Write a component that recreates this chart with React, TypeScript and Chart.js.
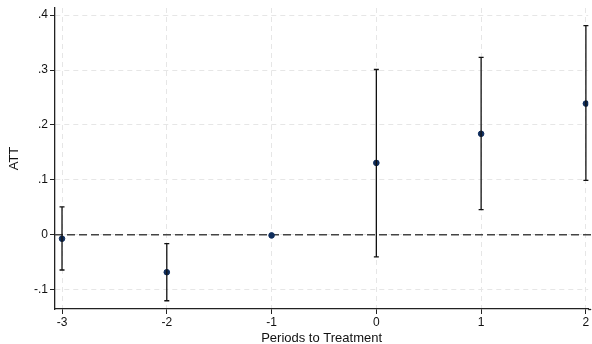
import React, { useEffect, useRef } from "react";
import { Chart, registerables } from "chart.js";

Chart.register(...registerables);

const periods = [-3, -2, -1, 0, 1, 2];
const att = [-0.007, -0.068, -0.001, 0.131, 0.184, 0.239];
const ciLower = [-0.064, -0.12, -0.001, -0.04, 0.046, 0.099];
const ciUpper = [0.051, -0.016, -0.001, 0.301, 0.323, 0.381];
const yTicks = [-0.1, 0, 0.1, 0.2, 0.3, 0.4];
const xTicks = [-3, -2, -1, 0, 1, 2];

const fmtY = (v: number) => {
  if (Math.abs(v) < 1e-9) return "0";
  const s = (Math.round(v * 10) / 10).toString();
  return s.replace("0.", ".");
};

const errorBars = {
  id: "errorBars",
  afterDatasetsDraw(chart: any) {
    const { ctx, scales } = chart;
    const xs = scales.x;
    const ys = scales.y;
    ctx.save();
    ctx.strokeStyle = "#111111";
    ctx.lineWidth = 1.3;
    for (let i = 0; i < periods.length; i++) {
      if (ciUpper[i] - ciLower[i] < 0.002) continue;
      const px = xs.getPixelForValue(periods[i]);
      const pl = ys.getPixelForValue(ciLower[i]);
      const pu = ys.getPixelForValue(ciUpper[i]);
      ctx.beginPath();
      ctx.moveTo(px, pl);
      ctx.lineTo(px, pu);
      ctx.moveTo(px - 2.5, pl);
      ctx.lineTo(px + 2.5, pl);
      ctx.moveTo(px - 2.5, pu);
      ctx.lineTo(px + 2.5, pu);
      ctx.stroke();
    }
    ctx.restore();
  },
  beforeDatasetsDraw(chart: any) {
    const { ctx, scales, chartArea } = chart;
    const py = scales.y.getPixelForValue(0);
    ctx.save();
    ctx.strokeStyle = "#444444";
    ctx.lineWidth = 1.5;
    ctx.setLineDash([8, 4]);
    ctx.beginPath();
    ctx.moveTo(chartArea.left, py);
    ctx.lineTo(chartArea.right + 3, py);
    ctx.stroke();
    ctx.setLineDash([]);
    ctx.strokeStyle = "#222";
    ctx.lineWidth = 1.3;
    ctx.beginPath();
    ctx.moveTo(chartArea.right, chartArea.bottom + 0.5);
    ctx.lineTo(chartArea.right + 3, chartArea.bottom + 0.5);
    ctx.stroke();
    ctx.restore();
  },
};

export default function App() {
  const ref = useRef<HTMLCanvasElement | null>(null);
  useEffect(() => {
    document.body.style.margin = "0";
    const canvas = ref.current!;
    const chart = new Chart(canvas, {
      type: "scatter",
      data: {
        datasets: [
          {
            data: periods.map((p, i) => ({ x: p, y: att[i] })),
            backgroundColor: "#0f2d5c",
            borderColor: "#0f2d5c",
            pointRadius: 2.8,
            pointHoverRadius: 2.8,
          },
        ],
      },
      options: {
        responsive: false,
        animation: false,
        events: [],
        layout: { padding: { top: 8, right: 0, left: 0, bottom: 0 } },
        plugins: { legend: { display: false }, tooltip: { enabled: false } },
        scales: {
          x: {
            type: "linear",
            min: -3.067,
            max: 2.022,
            afterBuildTicks: (s: any) => {
              s.ticks = xTicks.map((v) => ({ value: v }));
            },
            afterFit: (s: any) => {
              s.height = 35;
              s.paddingLeft = 0;
              s.paddingRight = 0;
            },
            ticks: {
              color: "#111",
              font: { family: "Liberation Sans, Arial", size: 12 },
              padding: 1,
              maxRotation: 0,
              callback: (v: any) => String(v),
            },
            grid: {
              color: "#e6e6e6",
              lineWidth: 1,
              tickLength: 5,
              tickColor: "#222",
              tickWidth: 1,
            },
            border: { display: true, color: "#222", width: 1.3, dash: [5, 4] },
            title: {
              display: true,
              text: "Periods to Treatment",
              color: "#111",
              font: { family: "Liberation Sans, Arial", size: 13 },
              padding: { top: 6, bottom: -2 },
            },
          },
          y: {
            type: "linear",
            min: -0.135,
            max: 0.413,
            afterBuildTicks: (s: any) => {
              s.ticks = yTicks.map((v) => ({ value: v }));
            },
            afterFit: (s: any) => {
              s.width = 55;
              s.paddingTop = 0;
              s.paddingBottom = 0;
            },
            ticks: {
              color: "#111",
              font: { family: "Liberation Sans, Arial", size: 12 },
              padding: 2,
              callback: (v: any) => fmtY(Number(v)),
            },
            grid: {
              color: "#e6e6e6",
              lineWidth: 1,
              tickLength: 5,
              tickColor: "#222",
              tickWidth: 1,
            },
            border: { display: true, color: "#222", width: 1.3, dash: [5, 4] },
            title: {
              display: true,
              text: "ATT",
              color: "#111",
              font: { family: "Liberation Sans, Arial", size: 13 },
              padding: { top: 7, bottom: 0 },
            },
          },
        },
      },
      plugins: [errorBars],
    } as any);
    return () => chart.destroy();
  }, []);
  return <canvas ref={ref} width={592} height={344} style={{ display: "block" }} />;
}
